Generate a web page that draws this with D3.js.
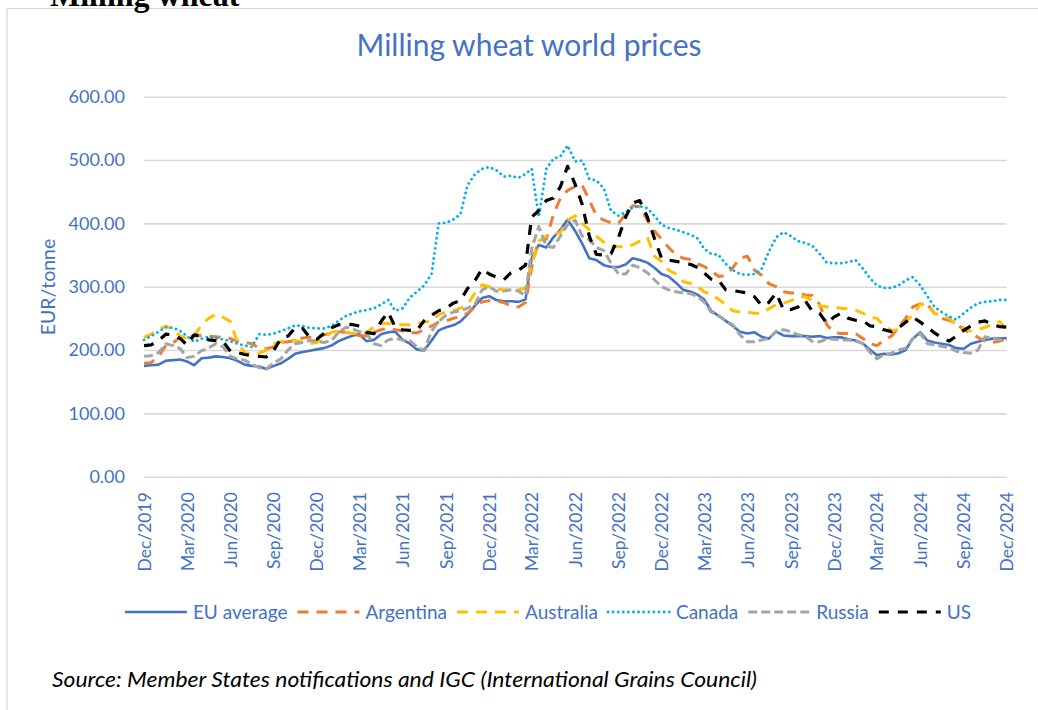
<!DOCTYPE html>
<html>
<head>
<meta charset="utf-8">
<script src="https://cdn.jsdelivr.net/npm/d3@7"></script>
<style>
  body { margin: 0; background: #fff; }
  svg { display: block; font-family: Lato, "Open Sans", sans-serif; }
</style>
</head>
<body>
<svg id="chart" width="1038" height="710"></svg>
<script>
// ---------------- DATA ----------------
const dates = [
  "2019-12-01","2019-12-16",
  "2020-01-01","2020-01-16","2020-02-01","2020-02-16","2020-03-01","2020-03-16","2020-04-01","2020-04-16","2020-05-01","2020-05-16","2020-06-01","2020-06-16",
  "2020-07-01","2020-07-16","2020-08-01","2020-08-16","2020-09-01","2020-09-16","2020-10-01","2020-10-16","2020-11-01","2020-11-16","2020-12-01","2020-12-16",
  "2021-01-01","2021-01-16","2021-02-01","2021-02-16","2021-03-01","2021-03-16","2021-04-01","2021-04-16","2021-05-01","2021-05-16","2021-06-01","2021-06-16",
  "2021-07-01","2021-07-16","2021-08-01","2021-08-16","2021-09-01","2021-09-16","2021-10-01","2021-10-16","2021-11-01","2021-11-16","2021-12-01","2021-12-16",
  "2022-01-01","2022-01-16","2022-02-01","2022-02-16","2022-03-01","2022-03-16","2022-04-01","2022-04-16","2022-05-01","2022-05-16","2022-06-01","2022-06-16",
  "2022-07-01","2022-07-16","2022-08-01","2022-08-16","2022-09-01","2022-09-16","2022-10-01","2022-10-16","2022-11-01","2022-11-16","2022-12-01","2022-12-16",
  "2023-01-01","2023-01-16","2023-02-01","2023-02-16","2023-03-01","2023-03-16","2023-04-01","2023-04-16","2023-05-01","2023-05-16","2023-06-01","2023-06-16",
  "2023-07-01","2023-07-16","2023-08-01","2023-08-16","2023-09-01","2023-09-16","2023-10-01","2023-10-16","2023-11-01","2023-11-16","2023-12-01","2023-12-16",
  "2024-01-01","2024-01-16","2024-02-01","2024-02-16","2024-03-01","2024-03-16","2024-04-01","2024-04-16","2024-05-01","2024-05-16","2024-06-01","2024-06-16",
  "2024-07-01","2024-07-16","2024-08-01","2024-08-16","2024-09-01","2024-09-16","2024-10-01","2024-10-16","2024-11-01","2024-11-16","2024-12-01"
];

const euAverage = [
  175,176,177,183,184,185,182,176,187,188,
  190,189,187,183,177,175,174,170,175,179,
  186,194,197,199,201,203,207,214,219,223,
  225,214,216,225,228,229,216,210,201,199,
  215,231,236,239,245,256,270,282,285,279,
  277,277,276,280,345,366,362,378,390,406,
  388,368,345,342,334,331,331,335,345,342,
  338,330,320,316,306,295,292,287,280,262,
  254,246,238,229,226,228,221,218,229,223,
  222,222,222,221,222,219,220,220,217,215,
  210,200,192,194,193,195,200,218,228,215,
  212,210,208,203,202,210,213,216,218,218,
  219
];

const argentina = [
  179,180,190,207,212,220,221,222,223,222,
  221,220,218,214,212,210,203,202,205,212,
  213,215,219,220,221,224,226,229,228,225,
  223,222,228,232,234,232,230,228,227,232,
  238,244,246,250,253,258,268,276,278,277,
  275,270,268,275,330,374,375,414,440,452,
  458,460,437,412,405,401,400,415,428,426,
  405,388,375,362,350,345,343,336,332,325,
  316,318,330,345,348,326,318,305,300,292,
  290,290,287,286,272,240,228,226,226,226,
  218,210,207,215,222,236,250,268,273,272,
  258,250,247,242,232,227,220,214,212,214,
  218
];

const australia = [
  220,225,232,238,232,222,218,222,240,250,
  256,252,245,212,196,194,195,200,210,213,
  216,215,212,210,212,220,228,230,228,226,
  226,228,236,242,242,240,240,240,242,244,
  246,256,260,262,266,272,290,303,300,297,
  295,295,295,298,335,372,380,382,386,405,
  412,400,390,380,370,363,363,364,366,372,
  378,348,340,326,320,308,305,300,292,288,
  280,272,262,260,260,258,258,265,272,274,
  278,284,284,278,270,268,268,266,265,263,
  258,252,250,238,231,232,245,255,272,273,
  258,255,250,240,235,230,232,236,240,245,
  232
];

const canada = [
  216,222,229,236,235,230,222,213,218,221,
  219,217,214,210,207,205,225,224,226,230,
  234,239,238,235,234,234,238,246,254,258,
  261,263,266,272,279,262,266,283,292,302,
  320,400,401,406,414,460,478,486,489,484,
  474,475,472,478,486,410,486,502,506,523,
  498,499,470,468,455,420,412,418,425,427,
  424,412,398,393,390,386,382,376,360,352,
  350,336,326,320,319,320,328,355,378,386,
  380,372,369,365,352,338,337,337,339,342,
  328,313,302,298,298,302,310,315,302,285,
  268,260,253,248,258,267,274,276,277,279,
  279
];

const russia = [
  190,191,196,210,207,202,188,190,199,203,
  210,205,190,186,184,178,172,170,180,186,
  200,210,212,215,214,212,215,228,236,233,
  229,226,210,207,216,218,216,215,205,199,
  230,245,255,260,262,266,272,295,300,293,
  293,295,293,286,360,395,364,362,380,398,
  405,380,374,362,357,337,320,320,334,330,
  322,311,300,295,292,290,289,284,276,260,
  254,246,240,224,213,213,216,218,230,232,
  229,224,222,214,213,218,217,216,216,214,
  210,196,186,193,195,200,203,218,226,210,
  208,206,204,198,196,195,200,221,218,216,
  216
];

const us = [
  207,208,215,225,224,218,208,224,222,216,
  215,214,198,196,193,191,190,189,200,218,
  222,235,234,220,217,226,235,240,241,240,
  238,228,226,245,260,236,232,231,231,246,
  255,262,266,274,278,297,310,328,320,315,
  311,322,326,334,410,420,436,440,458,490,
  462,430,380,351,350,352,378,410,432,436,
  410,376,345,342,340,338,335,330,322,312,
  310,295,294,292,290,284,270,275,290,264,
  264,268,278,262,258,242,252,258,250,247,
  246,238,237,232,229,235,244,252,244,236,
  227,220,214,222,231,238,244,246,240,237,
  236
];

const seriesNames = ["EU average", "Argentina", "Australia", "Canada", "Russia", "US"];
const yTicks = [0, 100, 200, 300, 400, 500, 600];
const xTickDates = [
  "2019-12-01","2020-03-01","2020-06-01","2020-09-01","2020-12-01","2021-03-01","2021-06-01",
  "2021-09-01","2021-12-01","2022-03-01","2022-06-01","2022-09-01","2022-12-01","2023-03-01",
  "2023-06-01","2023-09-01","2023-12-01","2024-03-01","2024-06-01","2024-09-01","2024-12-01"
];
const xTickLabels = [
  "Dec/2019","Mar/2020","Jun/2020","Sep/2020","Dec/2020","Mar/2021","Jun/2021",
  "Sep/2021","Dec/2021","Mar/2022","Jun/2022","Sep/2022","Dec/2022","Mar/2023",
  "Jun/2023","Sep/2023","Dec/2023","Mar/2024","Jun/2024","Sep/2024","Dec/2024"
];

// ---------------- CHART ----------------
const svg = d3.select("#chart");
const parse = d3.timeParse("%Y-%m-%d");
const blue = "#4472C4";
const plot = { left: 144, right: 1006.7, top: 96.7, bottom: 476.7 };

const x = d3.scaleTime()
  .domain([parse("2019-12-01"), parse("2024-12-01")])
  .range([plot.left, plot.right]);
const y = d3.scaleLinear().domain([0, 600]).range([plot.bottom, plot.top]);

// frame (chart area border, partly visible)
svg.append("line").attr("x1", 7).attr("x2", 1038).attr("y1", 8.5).attr("y2", 8.5)
  .attr("stroke", "#d9d9d9").attr("stroke-width", 1.2);
svg.append("line").attr("x1", 7).attr("x2", 7).attr("y1", 8.5).attr("y2", 710)
  .attr("stroke", "#d9d9d9").attr("stroke-width", 1.2);

// document heading, cut off by the top edge as in the reference
svg.append("text").attr("x", 50).attr("y", 6)
  .style("font-family", "'Liberation Serif', 'DejaVu Serif', serif")
  .style("font-weight", "bold").style("font-size", "32px").attr("fill", "#000")
  .text("Milling wheat");

// title
svg.append("text").attr("x", 529).attr("y", 56).attr("text-anchor", "middle")
  .attr("fill", blue).style("font-size", "30px")
  .text("Milling wheat world prices");

// y axis + gridlines
const gy = svg.append("g").attr("transform", `translate(${plot.left},0)`)
  .call(d3.axisLeft(y).tickValues(yTicks).tickSize(-(plot.right - plot.left))
    .tickPadding(19).tickFormat(d3.format(".2f")));
gy.select(".domain").remove();
gy.selectAll(".tick line").attr("stroke", "#d9d9d9").attr("stroke-width", 1.6);
gy.selectAll(".tick text").attr("fill", blue).style("font-size", "18px")
  .style("font-family", "Lato, sans-serif");

// y axis title
svg.append("text")
  .attr("transform", "translate(48,287) rotate(-90)")
  .attr("text-anchor", "middle").attr("dy", "0.35em")
  .attr("fill", blue).style("font-size", "19.5px")
  .text("EUR/tonne");

// x axis
const gx = svg.append("g").attr("transform", `translate(0,${plot.bottom})`)
  .call(d3.axisBottom(x).tickValues(xTickDates.map(parse)).tickSize(0)
    .tickFormat((d, i) => xTickLabels[i]));
gx.select(".domain").remove();
gx.selectAll(".tick text")
  .attr("transform", "rotate(-90)")
  .attr("text-anchor", "end")
  .attr("x", -15.5).attr("y", 0).attr("dy", "0.35em")
  .attr("fill", blue).style("font-size", "17.5px")
  .style("font-family", "Lato, sans-serif");

// series
const styles = [
  { color: "#4472C4", width: 2.6, dash: null, cap: "butt" },
  { color: "#ED7D31", width: 3, dash: "11 8", cap: "butt" },
  { color: "#FFC000", width: 3, dash: "11 8", cap: "butt" },
  { color: "#00B0F0", width: 2.8, dash: "0.1 5", cap: "round" },
  { color: "#A5A5A5", width: 3, dash: "9 4", cap: "butt" },
  { color: "#000000", width: 3.2, dash: "10 9", cap: "butt" }
];
const seriesValues = [euAverage, argentina, australia, canada, russia, us];
const parsedDates = dates.map(parse);

const line = d3.line()
  .x((d, i) => x(parsedDates[i]))
  .y(d => y(d));

const gLines = svg.append("g");
seriesValues.forEach((vals, k) => {
  const s = styles[k];
  gLines.append("path")
    .datum(vals)
    .attr("d", line)
    .attr("fill", "none")
    .attr("stroke", s.color)
    .attr("stroke-width", s.width)
    .attr("stroke-dasharray", s.dash)
    .attr("stroke-linecap", s.cap)
    .attr("stroke-linejoin", "round");
});

// legend
const legend = svg.append("g");
const symW = 62, gapSym = 6, gapItem = 10, legendY = 612, legendCenter = 548;
const items = seriesNames.map((name, k) => {
  const g = legend.append("g");
  g.append("line").attr("x1", 0).attr("x2", symW).attr("y1", 0).attr("y2", 0)
    .attr("stroke", styles[k].color).attr("stroke-width", styles[k].width)
    .attr("stroke-dasharray", styles[k].dash).attr("stroke-linecap", styles[k].cap);
  const t = g.append("text").attr("x", symW + gapSym).attr("y", 0).attr("dy", "0.35em")
    .attr("fill", blue).style("font-size", "19px").text(name);
  return { g, w: symW + gapSym + t.node().getComputedTextLength() };
});
const totalW = d3.sum(items, d => d.w) + gapItem * (items.length - 1);
let cx = legendCenter - totalW / 2;
items.forEach(it => {
  it.g.attr("transform", `translate(${cx},${legendY})`);
  cx += it.w + gapItem;
});

// source note
svg.append("text").attr("x", 52).attr("y", 687)
  .attr("fill", "#000").style("font-size", "22px").style("font-style", "italic")
  .attr("textLength", 705).attr("lengthAdjust", "spacingAndGlyphs")
  .text("Source: Member States notifications and IGC (International Grains Council)");
</script>
</body>
</html>
